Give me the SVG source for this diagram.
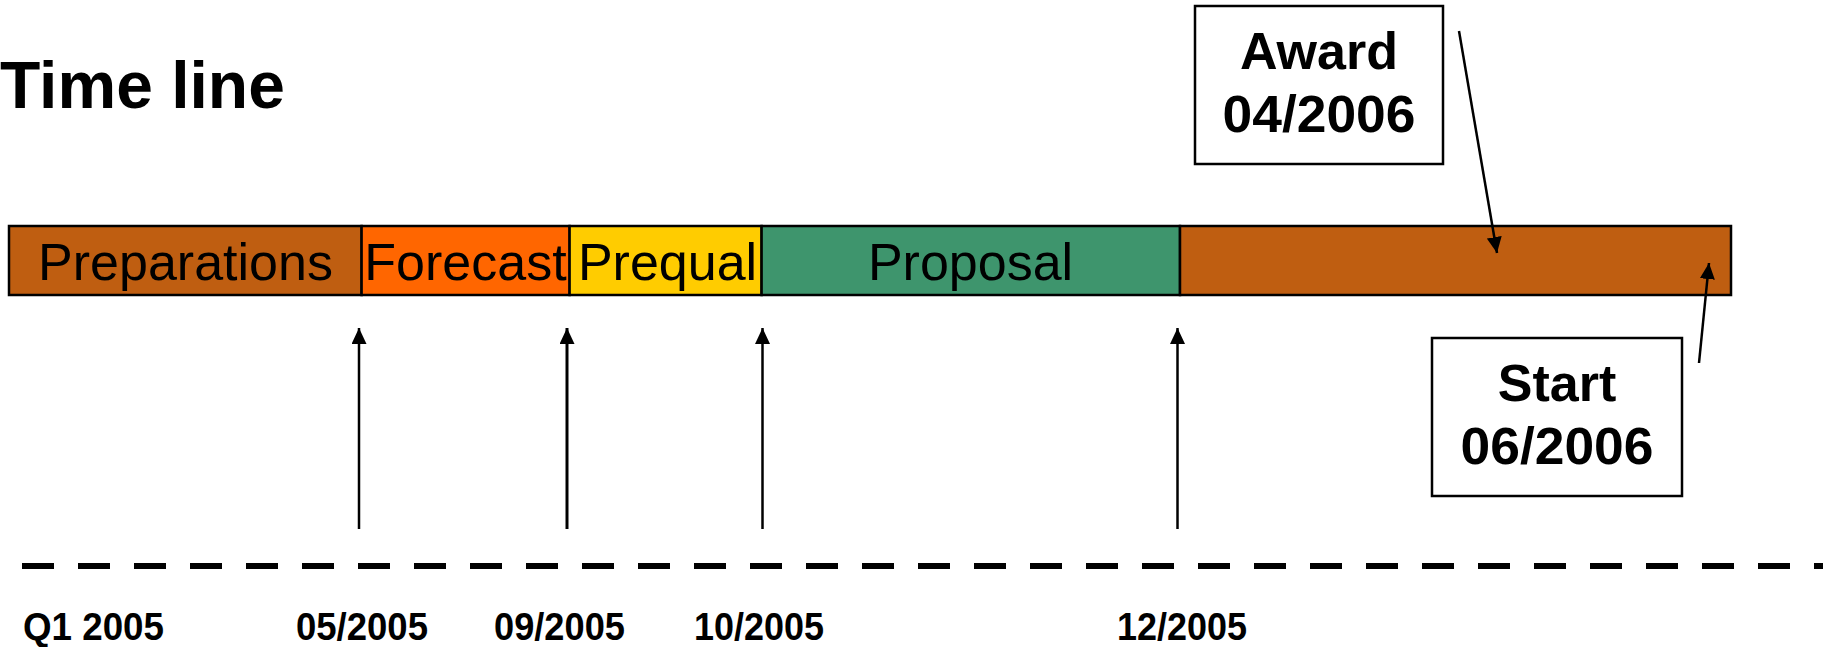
<svg xmlns="http://www.w3.org/2000/svg" width="1823" height="647" viewBox="0 0 1823 647">
<style>
.seg{stroke:#000;stroke-width:2.5}
.phase{font-family:"Liberation Sans",Arial,sans-serif;font-size:52px;fill:#000;text-anchor:middle}
.title{font-family:"Liberation Sans",Arial,sans-serif;font-size:66px;font-weight:bold;fill:#000}
.date{font-family:"Liberation Sans",Arial,sans-serif;font-size:38px;font-weight:bold;fill:#000}
.box{fill:#fff;stroke:#000;stroke-width:2.5}
.boxtxt{font-family:"Liberation Sans",Arial,sans-serif;font-size:52px;font-weight:bold;fill:#000;text-anchor:middle}
.arr{stroke:#000;stroke-width:2.5;fill:none;marker-end:url(#ah)}
</style>
<defs>
<marker id="ah" markerUnits="userSpaceOnUse" markerWidth="16" markerHeight="15" refX="16" refY="7.5" orient="auto">
<path d="M0,0 L16,7.5 L0,15 z" fill="#000"/>
</marker>
</defs>
<rect width="1823" height="647" fill="#fff"/>
<text class="title" x="0" y="108">Time line</text>
<g id="preparations">
<rect class="seg" x="9" y="226" width="352.6" height="69" fill="#BF5E11"/>
<text class="phase" x="185.5" y="280">Preparations</text>
</g>
<g id="forecast">
<rect class="seg" x="361.6" y="226" width="208" height="69" fill="#FF6600"/>
<text class="phase" x="465.5" y="280">Forecast</text>
</g>
<g id="prequal">
<rect class="seg" x="569.6" y="226" width="192" height="69" fill="#FFCC00"/>
<text class="phase" x="667.5" y="280">Prequal</text>
</g>
<g id="proposal">
<rect class="seg" x="761.6" y="226" width="418.4" height="69" fill="#3E956D"/>
<text class="phase" x="970.5" y="280">Proposal</text>
</g>
<g id="final">
<rect class="seg" x="1180" y="226" width="551" height="69" fill="#BF5E11"/>
</g>
<g id="award">
<rect class="box" x="1195" y="6" width="248" height="158"/>
<text class="boxtxt" x="1319" y="69">Award</text>
<text class="boxtxt" x="1319" y="132" textLength="193" lengthAdjust="spacingAndGlyphs">04/2006</text>
</g>
<g id="start">
<rect class="box" x="1432" y="338" width="250" height="158"/>
<text class="boxtxt" x="1557" y="401">Start</text>
<text class="boxtxt" x="1557" y="464" textLength="193" lengthAdjust="spacingAndGlyphs">06/2006</text>
</g>
<g id="dates">
<text class="date" x="23" y="640" textLength="141" lengthAdjust="spacingAndGlyphs">Q1 2005</text>
<text class="date" x="296" y="640" textLength="132" lengthAdjust="spacingAndGlyphs">05/2005</text>
<text class="date" x="494" y="640" textLength="131" lengthAdjust="spacingAndGlyphs">09/2005</text>
<text class="date" x="694" y="640" textLength="130" lengthAdjust="spacingAndGlyphs">10/2005</text>
<text class="date" x="1117" y="640" textLength="130" lengthAdjust="spacingAndGlyphs">12/2005</text>
</g>
<g id="connectors">
<line x1="22" y1="566" x2="1823" y2="566" stroke="#000" stroke-width="6" stroke-dasharray="32 24"/>
<line class="arr" x1="359" y1="529" x2="359" y2="328"/>
<line class="arr" x1="567" y1="529" x2="567" y2="328" style="stroke-width:3"/>
<line class="arr" x1="762.5" y1="529" x2="762.5" y2="328"/>
<line class="arr" x1="1177.5" y1="529" x2="1177.5" y2="328"/>
<line class="arr" x1="1459" y1="31" x2="1497" y2="253"/>
<line class="arr" x1="1699" y1="363" x2="1709" y2="263"/>
</g>
</svg>
